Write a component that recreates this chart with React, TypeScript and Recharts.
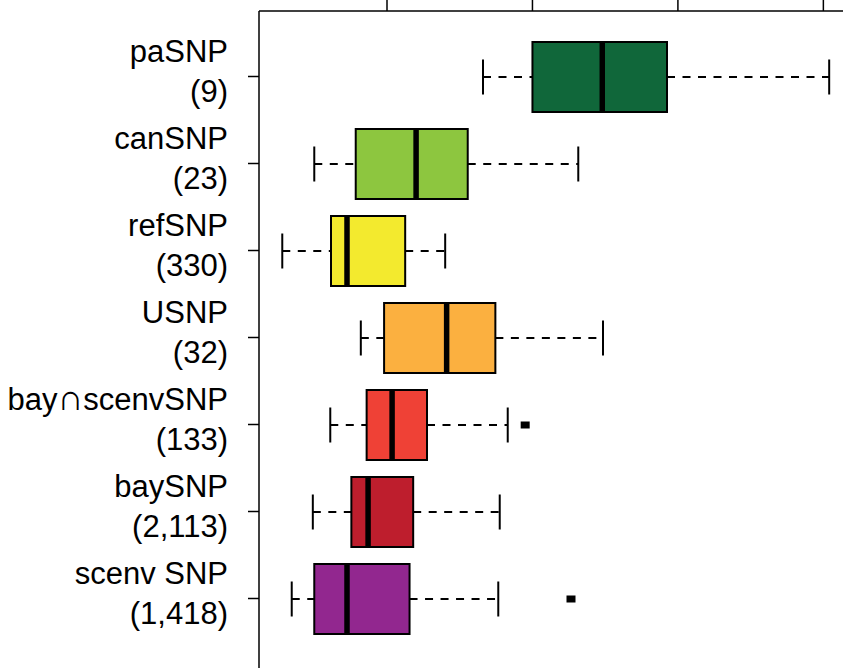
import { ComposedChart, Bar, XAxis, YAxis } from 'recharts';

const groups = ['paSNP', 'canSNP', 'refSNP', 'USNP', 'bay∩scenvSNP', 'baySNP', 'scenv SNP'];
const counts = ['(9)', '(23)', '(330)', '(32)', '(133)', '(2,113)', '(1,418)'];
const lowerWhisker = [0.332, 0.1, 0.056, 0.164, 0.122, 0.098, 0.069];
const q1 = [0.4, 0.157, 0.123, 0.196, 0.172, 0.151, 0.1];
const median = [0.496, 0.24, 0.145, 0.282, 0.207, 0.174, 0.145];
const q3 = [0.585, 0.311, 0.225, 0.349, 0.255, 0.236, 0.231];
const upperWhisker = [0.808, 0.463, 0.28, 0.497, 0.366, 0.355, 0.353];
const outliers = [[], [], [], [], [0.39], [], [0.453]];
const colors = ['#10673A', '#8DC63F', '#F3EA2E', '#FBB040', '#EF4136', '#BE1E2D', '#92278F'];
const xTicks = [0.2, 0.4, 0.6, 0.8];

const data = groups.map((name, i) => ({
  name,
  box: [q1[i], q3[i]],
  lo: lowerWhisker[i],
  q1: q1[i],
  med: median[i],
  q3: q3[i],
  hi: upperWhisker[i],
  out: outliers[i],
  color: colors[i],
}));

const FONT = '"Liberation Sans", Arial, Helvetica, sans-serif';

// draws whiskers, box, median and outliers; positions come from the bar's own q1..q3 geometry
const BoxShape = (props: any) => {
  const { x, y, width, height, payload } = props;
  const k = width / (payload.q3 - payload.q1);
  const px = (v: number) => x + (v - payload.q1) * k;
  const cy = y + height / 2;
  const cap = height / 4;
  return (
    <g>
      <line x1={px(payload.lo)} x2={x} y1={cy} y2={cy} stroke="#000" strokeWidth={2} strokeDasharray="8 7.5" />
      <line x1={x + width} x2={px(payload.hi)} y1={cy} y2={cy} stroke="#000" strokeWidth={2} strokeDasharray="8 7.5" />
      <line x1={px(payload.lo)} x2={px(payload.lo)} y1={cy - cap} y2={cy + cap} stroke="#000" strokeWidth={2} />
      <line x1={px(payload.hi)} x2={px(payload.hi)} y1={cy - cap} y2={cy + cap} stroke="#000" strokeWidth={2} />
      <rect x={x} y={y} width={width} height={height} fill={payload.color} stroke="#000" strokeWidth={2} />
      <line x1={px(payload.med)} x2={px(payload.med)} y1={y} y2={y + height} stroke="#000" strokeWidth={5.5} />
      {payload.out.map((v: number, j: number) => (
        <rect key={j} x={px(v) - 4.5} y={cy - 3.5} width={9} height={7} fill="#000" />
      ))}
    </g>
  );
};

// splits the name around ∩ so the symbol can be drawn at cap height
const renderName = (name: string) => {
  const parts = name.split('∩');
  if (parts.length < 2) return name;
  return [
    <tspan key="a">{parts[0]}</tspan>,
    <tspan key="b" fontFamily='"DejaVu Sans", sans-serif' fontSize={36} fontWeight={200}>∩</tspan>,
    <tspan key="c">{parts[1]}</tspan>,
  ];
};

const GroupTick = (props: any) => {
  const { x, y, payload } = props;
  const i = groups.indexOf(payload.value);
  return (
    <g fontFamily={FONT} fontSize={31} fill="#000">
      <text x={x} y={y - 15} textAnchor="end">{renderName(payload.value)}</text>
      <text x={x} y={y + 25} textAnchor="end">{counts[i]}</text>
    </g>
  );
};

export default function App() {
  return (
    <div
      style={{
        position: 'fixed',
        left: 0,
        top: 0,
        width: 843,
        height: 669,
        overflow: 'hidden',
        background: '#fff',
      }}
    >
      <ComposedChart
        width={880}
        height={700}
        data={data}
        layout="vertical"
        margin={{ top: 0, right: 29, bottom: 32, left: 0 }}
      >
        <XAxis
          type="number"
          orientation="top"
          domain={[0.024, 0.838]}
          ticks={xTicks}
          allowDataOverflow
          height={11}
          tickSize={11}
          tick={() => <g />}
          axisLine={{ stroke: '#000', strokeWidth: 1.5 }}
          tickLine={{ stroke: '#000', strokeWidth: 1.5 }}
        />
        <YAxis
          type="category"
          dataKey="name"
          width={259}
          interval={0}
          tickSize={11}
          tickMargin={20}
          padding={{ top: 22, bottom: 26 }}
          tick={<GroupTick />}
          axisLine={{ stroke: '#000', strokeWidth: 1.5 }}
          tickLine={{ stroke: '#000', strokeWidth: 1.5 }}
        />
        <Bar dataKey="box" barSize={70} isAnimationActive={false} shape={(p: any) => <BoxShape {...p} />} />
      </ComposedChart>
    </div>
  );
}
